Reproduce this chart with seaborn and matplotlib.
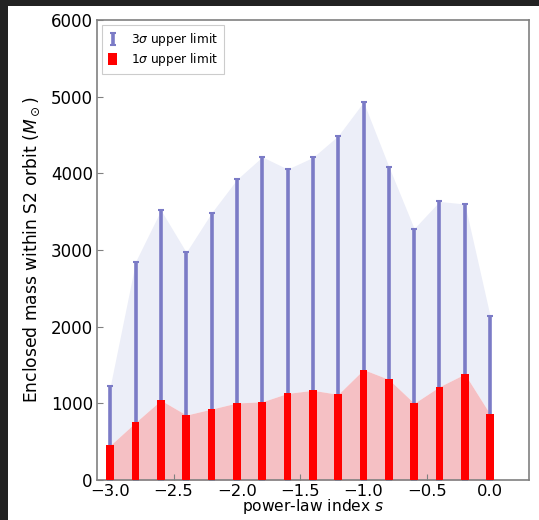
import numpy as np
import pandas as pd
import matplotlib
matplotlib.use("Agg")
import matplotlib.pyplot as plt
from matplotlib.patches import Rectangle
import seaborn as sns

# Data
s_index = [-3.0, -2.8, -2.6, -2.4, -2.2, -2.0, -1.8, -1.6, -1.4, -1.2, -1.0, -0.8, -0.6, -0.4, -0.2, 0.0]
upper_3sigma = [1225, 2850, 3520, 2970, 3485, 3920, 4215, 4055, 4207, 4490, 4930, 4088, 3280, 3633, 3600, 2138]
upper_1sigma = [452, 752, 1040, 847, 925, 1005, 1020, 1130, 1170, 1117, 1440, 1312, 1000, 1217, 1382, 857]

df = pd.DataFrame({"s": s_index, "m3": upper_3sigma, "m1": upper_1sigma})

fig = plt.figure(figsize=(5.39, 5.20), dpi=100, facecolor="#222222")
fig.patches.append(Rectangle((8 / 539, 0), 1, 1 - 6 / 520, transform=fig.transFigure,
                             facecolor="white", edgecolor="none", zorder=-10))
ax = fig.add_axes([97 / 539, 1 - 480 / 520, (528.5 - 97) / 539, (480 - 20) / 520])

blue = "#7b7bc6"
ax.fill_between(df["s"], df["m1"], df["m3"], color="#eceef8", lw=0, zorder=1)
ax.fill_between(df["s"], 0, df["m1"], color="#f5c0c4", lw=0, zorder=1)

eb = ax.errorbar(df["s"], np.zeros(len(df)), yerr=[np.zeros(len(df)), df["m3"]],
                 fmt="none", ecolor=blue, elinewidth=2.6, capsize=2.5, capthick=1.5,
                 zorder=2, label=r"3$\sigma$ upper limit")

sns.barplot(data=df, x="s", y="m1", native_scale=True, width=0.3, color="red",
            saturation=1, errorbar=None, ax=ax, zorder=3, label=r"1$\sigma$ upper limit")

ax.set_xlim(-3.105, 0.303)
ax.set_ylim(0, 6000)
ax.set_xticks([-3.0, -2.5, -2.0, -1.5, -1.0, -0.5, 0.0])
ax.set_xticklabels(["\u22123.0", "\u22122.5", "\u22122.0", "\u22121.5", "\u22121.0", "\u22120.5", "0.0"])
ax.set_yticks([0, 1000, 2000, 3000, 4000, 5000, 6000])
ax.tick_params(direction="in", labelsize=12, length=4, color="#808080", pad=3)
ax.tick_params(axis="x", labelsize=11.8)
for sp in ax.spines.values():
    sp.set_color("#808080")
    sp.set_linewidth(1.2)

ax.set_xlabel(r"power-law index $s$", fontsize=11.2, labelpad=-1.3)
ax.set_ylabel(r"Enclosed mass within S2 orbit ($M_\odot$)", fontsize=12.3, labelpad=6)

leg = ax.legend(loc="upper left", fontsize=8.7, handlelength=0.7, handleheight=1.05,
                handletextpad=1.15, fancybox=False, edgecolor="#cccccc", framealpha=1,
                borderpad=0.5, labelspacing=0.22, borderaxespad=0.45)
leg.get_frame().set_linewidth(0.8)

fig.savefig("out.png", dpi=100, facecolor=fig.get_facecolor())
